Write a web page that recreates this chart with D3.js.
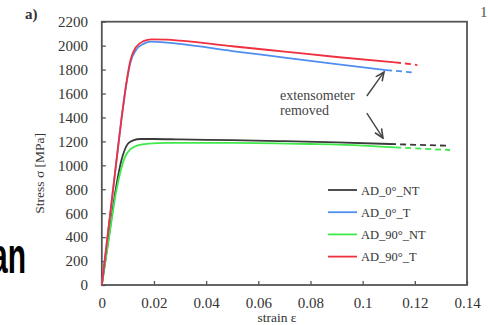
<!DOCTYPE html>
<html><head><meta charset="utf-8">
<script src="https://cdn.jsdelivr.net/npm/d3@7"></script>
<style>body{margin:0;background:#fff}svg{display:block}</style>
</head><body>
<svg id="c" width="489" height="325"></svg>
<script>
const seriesNames = ["AD_0°_NT", "AD_0°_T", "AD_90°_NT", "AD_90°_T"];
const seriesColors = ["#3a3a3a", "#4f8ef0", "#3fe94c", "#f0303f"];
// solid parts [strain, stress]
const ad0NT = [[0,0],[0.003,450],[0.0055,820],[0.0075,1040],[0.0088,1130],[0.010,1180],[0.012,1208],[0.015,1220],[0.02,1220],[0.03,1216],[0.05,1210],[0.07,1202],[0.09,1192],[0.1105,1178]];
const ad0T = [[0,0],[0.0045,830],[0.0075,1380],[0.0095,1690],[0.011,1860],[0.013,1960],[0.016,2015],[0.019,2033],[0.024,2028],[0.03,2015],[0.05,1955],[0.07,1900],[0.09,1845],[0.109,1796]];
const ad90NT = [[0,0],[0.003,430],[0.0055,780],[0.0075,975],[0.009,1075],[0.011,1135],[0.014,1168],[0.018,1182],[0.025,1188],[0.05,1188],[0.08,1178],[0.1,1165],[0.1125,1150]];
const ad90T = [[0,0],[0.0045,830],[0.0075,1380],[0.0095,1700],[0.011,1880],[0.013,1985],[0.016,2038],[0.019,2052],[0.025,2050],[0.03,2042],[0.05,1995],[0.07,1950],[0.09,1905],[0.1124,1861]];
// dashed continuations after extensometer removal
const ad0NTdash = [[0.1105,1178],[0.132,1164]];
const ad0Tdash = [[0.109,1796],[0.1188,1777]];
const ad90NTdash = [[0.1125,1150],[0.1335,1128]];
const ad90Tdash = [[0.1124,1861],[0.121,1838]];
const xTicks = [0,0.02,0.04,0.06,0.08,0.1,0.12,0.14];
const yTicks = [0,200,400,600,800,1000,1200,1400,1600,1800,2000,2200];

const svg = d3.select("#c");
const x = d3.scaleLinear().domain([0,0.14]).range([101.8,467]);
const y = d3.scaleLinear().domain([0,2200]).range([285,21.7]);
const axisCol = "#555";
const SERIF = '"Liberation Serif", serif';

// big clipped text at left
svg.append("text").attr("x",26).attr("y",273)
  .attr("transform","translate(26,0) scale(0.6,1) translate(-26,0)")
  .attr("text-anchor","end").style("font-family",'"Liberation Sans", sans-serif')
  .attr("font-weight","bold").attr("font-size",50).attr("fill","#000")
  .text("an");

svg.append("text").style("font-family",SERIF).attr("x",25).attr("y",19)
  .attr("font-weight","bold").attr("font-size",15).attr("fill","#333").text("a)");
svg.append("text").style("font-family",SERIF).attr("x",480).attr("y",17)
  .attr("font-size",15).attr("fill","#555").text("1");

// axes
const gx = svg.append("g").attr("transform",`translate(0,${y(0)})`)
  .call(d3.axisBottom(x).tickValues(xTicks).tickSizeInner(-4).tickSizeOuter(0).tickPadding(12.3)
    .tickFormat(d => String(+d.toFixed(2))));
const gy = svg.append("g").attr("transform",`translate(${x(0)},0)`)
  .call(d3.axisLeft(y).tickValues(yTicks).tickSizeInner(-4).tickSizeOuter(0).tickPadding(13.8)
    .tickFormat(d3.format("d")));
[gx,gy].forEach(g=>{
  g.attr("font-family",null).attr("font-size",null);
  g.select(".domain").remove();
  g.selectAll("line").attr("stroke",axisCol).attr("stroke-width",1.3);
  g.selectAll("text").style("font-family",SERIF).attr("font-size",15).attr("fill","#333");
});
// frame
svg.append("rect").attr("x",x(0)).attr("y",y(2200)).attr("width",x(0.14)-x(0)).attr("height",y(0)-y(2200))
  .attr("fill","none").attr("stroke",axisCol).attr("stroke-width",1.8);

svg.append("text").style("font-family",SERIF).attr("transform",`translate(44,${(y(2200)+y(0))/2 + 20}) rotate(-90)`)
  .attr("text-anchor","middle").attr("font-size",13.5).attr("fill","#333")
  .text("Stress σ [MPa]");
svg.append("text").style("font-family",SERIF).attr("x",277).attr("y",322).attr("text-anchor","middle")
  .attr("font-size",13.5).attr("fill","#333").text("strain ε");

// curves
const line = d3.line().x(d=>x(d[0])).y(d=>y(d[1])).curve(d3.curveMonotoneX);
const solids = [ad0NT, ad90NT, ad0T, ad90T];
const dashes = [ad0NTdash, ad90NTdash, ad0Tdash, ad90Tdash];
const order = [0,2,1,3];
order.forEach((si,i)=>{
  svg.append("path").attr("d",line(solids[i])).attr("fill","none")
    .attr("stroke",seriesColors[si]).attr("stroke-width",1.8);
  svg.append("path").attr("d",line(dashes[i])).attr("fill","none")
    .attr("stroke",seriesColors[si]).attr("stroke-width",1.8).attr("stroke-dasharray","6,4");
});

// annotation
svg.append("defs").append("marker").attr("id","ah").attr("viewBox","0 0 10 10")
  .attr("refX",9).attr("refY",5).attr("markerWidth",7).attr("markerHeight",7).attr("orient","auto")
  .append("path").attr("d","M0,1 L9,5 L0,9").attr("fill","none").attr("stroke","#444").attr("stroke-width",1.6);
const arrows = [[[0.1016,1579],[0.1082,1780]],[[0.1016,1437],[0.1078,1228]]];
arrows.forEach(a=>{
  svg.append("line").attr("x1",x(a[0][0])).attr("y1",y(a[0][1])).attr("x2",x(a[1][0])).attr("y2",y(a[1][1]))
    .attr("stroke","#444").attr("stroke-width",1.4).attr("marker-end","url(#ah)");
});
svg.append("text").style("font-family",SERIF).attr("x",280).attr("y",100).attr("font-size",14)
  .attr("fill","#444").text("extensometer");
svg.append("text").style("font-family",SERIF).attr("x",280).attr("y",115).attr("font-size",14)
  .attr("fill","#444").text("removed");

// legend
const leg = svg.append("g");
seriesNames.forEach((n,i)=>{
  const yy = 190 + i*22.2;
  leg.append("line").attr("x1",328).attr("x2",357).attr("y1",yy).attr("y2",yy)
    .attr("stroke",seriesColors[i]).attr("stroke-width",1.8);
  leg.append("text").style("font-family",SERIF).attr("x",361).attr("y",yy+4.5).attr("font-size",12.5)
    .attr("fill","#333").text(n);
});
</script>
</body></html>
